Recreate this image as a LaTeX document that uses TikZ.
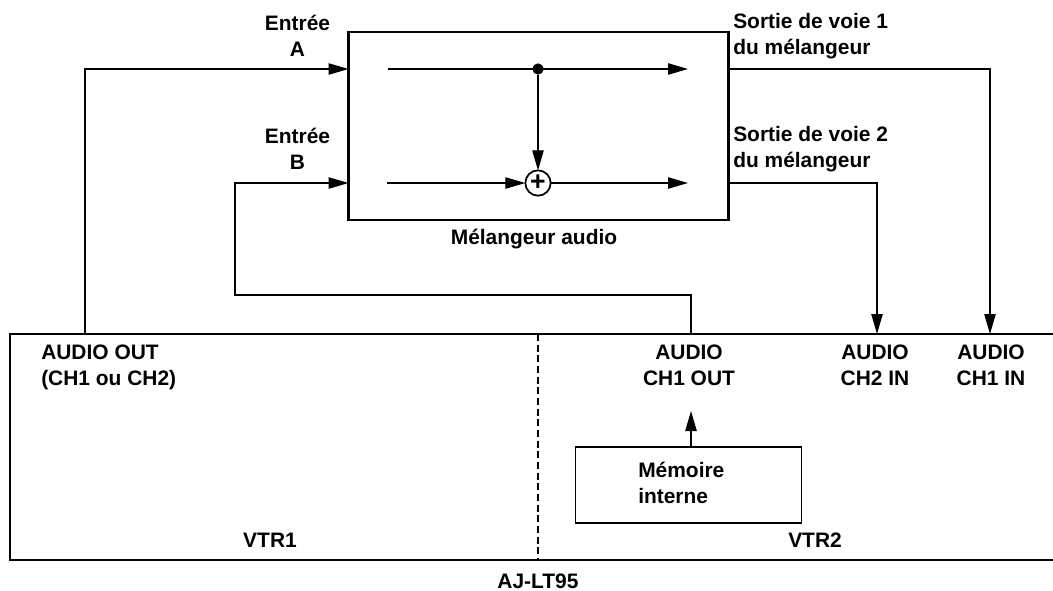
\documentclass[tikz,border=0pt]{standalone}
\usepackage{fontspec}
\setmainfont{Liberation Sans}
\usetikzlibrary{arrows.meta,positioning}
\tikzset{
  texte/.style={font=\fontsize{15.7}{19.6}\selectfont\bfseries,inner sep=0pt,align=center},
  texteg/.style={texte,align=left,anchor=west},
  fleche/.style={line width=0.95pt,-{Triangle[length=15pt,width=8.5pt]}},
  trait/.style={line width=0.8pt},
  epais/.style={line width=1.9pt},
}
\begin{document}
\begin{tikzpicture}[x=0.75pt,y=-0.75pt]
    \useasboundingbox (0,0) rectangle (1053,590);
    % Mélangeur
    \node[draw,epais,minimum width=285pt,minimum height=141pt,outer sep=0pt] (melangeur) at (538.5,126) {};
    \node[texte] (titre) at (534,239) {Mélangeur audio};
    \node[circle,draw,line width=1.3pt,minimum size=19pt,inner sep=0pt,outer sep=0pt,
      font=\fontsize{20}{20}\selectfont\bfseries] (somme) at (538,183) {\raisebox{0.8pt}{+}};
    \node[circle,fill,minimum size=8.5pt,inner sep=0pt,outer sep=0pt] (point) at (538,69) {};
    % Points internes
    \coordinate (hautin) at (388,69);
    \coordinate (hautout) at (688,69);
    \coordinate (basin) at (387,183);
    \coordinate (basout) at (688,183);
    % Points de connexion
    \coordinate (entreeA) at (melangeur.west |- hautin);
    \coordinate (entreeB) at (melangeur.west |- basin);
    \coordinate (sortie1) at (melangeur.east |- hautout);
    \coordinate (sortie2) at (melangeur.east |- basout);
    \coordinate (vtrout) at (85,334);
    \coordinate (ch1out) at (691,334);
    \coordinate (ch2in) at (877,334);
    \coordinate (ch1in) at (990,334);
    % Signaux internes
    \draw[fleche] (hautin) -- (hautout);
    \draw[fleche] (point) -- (somme);
    \draw[fleche] (basin) -- (somme);
    \draw[fleche] (somme) -- (basout);
    % Liaisons
    \draw[fleche] (vtrout) |- (entreeA);
    \draw[fleche] (ch1out) |- (235,295) |- (entreeB);
    \draw[fleche] (sortie1) -| (ch1in);
    \draw[fleche] (sortie2) -| (ch2in);
    % Boîtier
    \draw[epais] (1053,334) -- (10,334) -- (10,560) -- (1053,560);
    \draw[trait,dash pattern=on 5.2pt off 2.8pt] (538,334) -- (538,560);
    \node[draw,line width=0.9pt,minimum width=170pt,minimum height=57pt,outer sep=0pt] (memoire) at (688.5,485) {};
    \coordinate (memoirehaut) at (691,411);
    \draw[fleche] (memoire.north -| memoirehaut) -- (memoirehaut);
    % Textes
    \node[texte] (entA) at (297.5,36) {Entrée\\A};
    \node[texte] (entB) at (297.5,149) {Entrée\\B};
    \node[texteg] (sort1) at (733,36) {Sortie de voie 1\\du mélangeur};
    \node[texteg] (sort2) at (733,149) {Sortie de voie 2\\du mélangeur};
    \node[texteg] (audioout) at (41,367.5) {AUDIO OUT\\(CH1 ou CH2)};
    \node[texte] (txtch1out) at (689,365.5) {AUDIO\\CH1 OUT};
    \node[texte] (txtch2in) at (875,365.5) {AUDIO\\CH2 IN};
    \node[texte] (txtch1in) at (991,365.5) {AUDIO\\CH1 IN};
    \node[texteg] (txtmem) at (638,483) {Mémoire\\interne};
    \node[texte] (vtr1) at (270,540) {VTR1};
    \node[texte] (vtr2) at (815,540) {VTR2};
    \node[texte] (modele) at (538,581.5) {AJ-LT95};
\end{tikzpicture}
\end{document}
